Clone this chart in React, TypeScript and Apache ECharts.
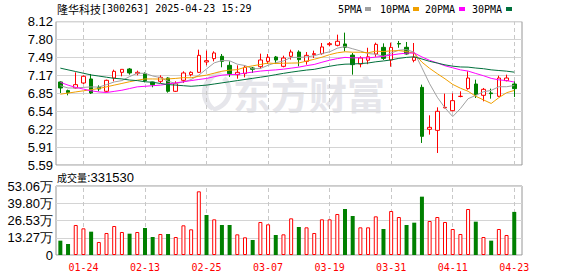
import React, { useEffect, useRef } from "react";
import * as echarts from "echarts";

const dates = [
  "01-21", "01-22", "01-23", "01-24", "01-27", "02-05", "02-06", "02-07", "02-10", "02-11",
  "02-12", "02-13", "02-14", "02-17", "02-18", "02-19", "02-20", "02-21", "02-24", "02-25",
  "02-26", "02-27", "02-28", "03-03", "03-04", "03-05", "03-06", "03-07", "03-10", "03-11",
  "03-12", "03-13", "03-14", "03-17", "03-18", "03-19", "03-20", "03-21", "03-24", "03-25",
  "03-26", "03-27", "03-28", "03-31", "04-01", "04-02", "04-03", "04-07", "04-08", "04-09",
  "04-10", "04-11", "04-14", "04-15", "04-16", "04-17", "04-18", "04-21", "04-22", "04-23",
];

const openP = [
  7.056, 6.903, 6.95, 7.038, 7.109, 6.962, 6.891, 7.126, 7.226, 7.285,
  7.203, 7.203, 7.056, 7.067, 7.126, 6.891, 7.085, 7.185, 7.226, 7.409,
  7.468, 7.509, 7.35, 7.185, 7.203, 7.303, 7.326, 7.42, 7.497, 7.332,
  7.509, 7.585, 7.42, 7.538, 7.556, 7.715, 7.703, 7.727, 7.53, 7.373,
  7.44, 7.55, 7.667, 7.444, 7.735, 7.668, 7.438, 6.961, 6.22, 6.202,
  6.6, 6.549, 6.8, 6.938, 7.02, 6.82, 6.862, 6.803, 7.079, 7.02,
];
const highP = [
  7.067, 6.92, 7.226, 7.173, 7.197, 6.997, 7.097, 7.273, 7.279, 7.303,
  7.256, 7.226, 7.06, 7.173, 7.138, 7.067, 7.244, 7.244, 7.626, 7.609,
  7.597, 7.55, 7.42, 7.35, 7.35, 7.32, 7.556, 7.55, 7.515, 7.52,
  7.626, 7.615, 7.585, 7.609, 7.744, 7.762, 7.891, 7.927, 7.567, 7.509,
  7.66, 7.75, 7.738, 7.75, 7.78, 7.762, 7.744, 7.009, 6.467, 6.608,
  6.85, 6.856, 6.891, 7.244, 7.097, 6.95, 6.938, 7.167, 7.185, 7.067,
];
const lowP = [
  6.861, 6.82, 6.94, 7.02, 6.844, 6.891, 6.873, 7.067, 7.156, 7.185,
  7.173, 7.05, 6.962, 7.038, 6.867, 6.879, 7.038, 7.156, 7.215, 7.35,
  7.42, 7.315, 7.144, 7.114, 7.138, 7.215, 7.291, 7.373, 7.373, 7.315,
  7.45, 7.332, 7.362, 7.479, 7.538, 7.685, 7.685, 7.597, 7.185, 7.315,
  7.37, 7.5, 7.444, 7.326, 7.66, 7.538, 7.403, 5.979, 6.126, 5.802,
  6.59, 6.538, 6.785, 6.92, 6.773, 6.714, 6.761, 6.791, 7.067, 6.791,
];
const closeP = [
  6.95, 6.867, 7.009, 7.156, 6.861, 6.932, 7.085, 7.244, 7.279, 7.215,
  7.226, 7.079, 7.009, 7.138, 6.891, 7.026, 7.215, 7.226, 7.526, 7.432,
  7.568, 7.42, 7.203, 7.226, 7.315, 7.279, 7.444, 7.491, 7.444, 7.479,
  7.585, 7.45, 7.526, 7.556, 7.674, 7.732, 7.774, 7.668, 7.362, 7.479,
  7.5, 7.72, 7.473, 7.667, 7.726, 7.55, 7.491, 6.096, 6.255, 6.538,
  6.608, 6.726, 6.803, 7.126, 6.832, 6.926, 6.85, 7.126, 7.126, 6.938,
];

const ma5 = [
  6.99, 6.95, 6.95, 6.96, 6.969, 6.965, 7.009, 7.056, 7.08, 7.151,
  7.21, 7.209, 7.162, 7.133, 7.069, 7.029, 7.056, 7.099, 7.177, 7.285,
  7.393, 7.434, 7.43, 7.37, 7.346, 7.289, 7.293, 7.351, 7.395, 7.427,
  7.489, 7.49, 7.497, 7.519, 7.558, 7.588, 7.652, 7.681, 7.642, 7.603,
  7.557, 7.546, 7.507, 7.568, 7.617, 7.627, 7.581, 7.306, 7.024, 6.786,
  6.598, 6.445, 6.586, 6.76, 6.819, 6.883, 6.907, 6.972, 6.972, 6.993,
];
const ma10 = [
  6.84, 6.86, 6.88, 6.9, 6.92, 6.94, 6.97, 7.0, 7.03, 7.06,
  7.087, 7.109, 7.109, 7.107, 7.11, 7.119, 7.132, 7.13, 7.155, 7.177,
  7.211, 7.245, 7.265, 7.273, 7.316, 7.341, 7.364, 7.39, 7.382, 7.387,
  7.389, 7.392, 7.424, 7.457, 7.493, 7.538, 7.571, 7.589, 7.581, 7.581,
  7.572, 7.599, 7.594, 7.605, 7.61, 7.592, 7.564, 7.406, 7.296, 7.202,
  7.112, 7.013, 6.946, 6.892, 6.803, 6.74, 6.676, 6.779, 6.866, 6.906,
];
const ma20 = [
  7.05, 7.0, 6.96, 6.93, 6.9, 6.88, 6.87, 6.89, 6.91, 6.94,
  6.97, 6.98, 6.99, 7.0, 7.02, 7.04, 7.06, 7.08, 7.1, 7.118,
  7.149, 7.177, 7.187, 7.19, 7.213, 7.23, 7.248, 7.26, 7.269, 7.282,
  7.3, 7.318, 7.344, 7.365, 7.404, 7.44, 7.468, 7.49, 7.481, 7.484,
  7.48, 7.495, 7.509, 7.531, 7.551, 7.565, 7.567, 7.498, 7.438, 7.391,
  7.342, 7.306, 7.27, 7.248, 7.206, 7.166, 7.12, 7.093, 7.081, 7.054,
];
const ma30 = [
  7.3, 7.27, 7.24, 7.21, 7.18, 7.16, 7.14, 7.12, 7.11, 7.09,
  7.08, 7.06, 7.05, 7.03, 7.01, 7.0, 6.99, 6.98, 6.99, 7.0,
  7.02, 7.04, 7.06, 7.08, 7.1, 7.12, 7.14, 7.16, 7.185, 7.208,
  7.229, 7.248, 7.266, 7.279, 7.306, 7.333, 7.356, 7.37, 7.373, 7.381,
  7.391, 7.412, 7.427, 7.445, 7.473, 7.49, 7.5, 7.462, 7.42, 7.39,
  7.358, 7.335, 7.321, 7.318, 7.302, 7.29, 7.27, 7.258, 7.247, 7.229,
];

const volume = [
  110200, 84600, 230700, 205100, 179400, 100000, 169200, 223000, 176900, 164000,
  176900, 207600, 138400, 161500, 161500, 138400, 228200, 197400, 489700, 307600,
  274300, 230700, 230700, 158900, 135900, 115400, 253800, 235800, 153800, 158900,
  282000, 215300, 212700, 169200, 274300, 274300, 315300, 353700, 299900, 212700,
  212700, 297300, 199900, 338400, 292200, 230700, 248600, 448600, 261500, 292200,
  253800, 199900, 161500, 353700, 256300, 138400, 110200, 199900, 153800, 331530,
];
// u = red (rise vs previous close), d = green
const volDir = [
  "d", "d", "u", "u", "d", "u", "u", "u", "u", "d",
  "u", "d", "d", "u", "d", "u", "u", "u", "u", "d",
  "u", "d", "d", "u", "u", "d", "u", "u", "d", "u",
  "u", "d", "u", "u", "u", "u", "u", "d", "d", "u",
  "u", "u", "d", "u", "u", "d", "d", "d", "u", "u",
  "u", "u", "u", "u", "d", "u", "d", "u", "u", "d",
];

const priceTicks = ["5.59", "5.91", "6.22", "6.54", "6.85", "7.17", "7.49", "7.80", "8.12"];
const volTicks = ["0", "13.27万", "26.53万", "39.80万", "53.06万"];
const labelDates = ["01-24", "02-13", "02-25", "03-07", "03-19", "03-31", "04-11", "04-23"];
const maNames = ["5PMA", "10PMA", "20PMA", "30PMA"];
const maColors = ["#a0a0a0", "#f0a000", "#ff00ff", "#00703c"];

const RED = "#ff0000";
const GREEN = "#008000";

const LOGO_D =
  "M22 0 C8 4 0 16 3 30 C5 38 10 42 14 44 L17 40 C12 36 9 30 10 22 C11 12 17 6 26 3 Z " +
  "M30 6 L26 10 C31 14 33 20 31 27 C29 34 22 39 14 41 L16 45 C27 43 35 36 37 26 C38 18 35 10 30 6 Z";

let logoRegistered = false;
function ensureLogo() {
  if (logoRegistered) return;
  try {
    const Logo = (echarts as any).graphic.extendPath(LOGO_D, {});
    (echarts as any).graphic.registerShape("emlogo", Logo);
    logoRegistered = true;
  } catch (e) {
    logoRegistered = false;
  }
}

export default function App() {
  const ref = useRef<HTMLDivElement>(null);

  useEffect(() => {
    ensureLogo();
    const chart = echarts.init(ref.current!, null, { renderer: "svg" });
    const kData = dates.map((_, i) => [openP[i], closeP[i], lowP[i], highP[i]]);
    const volData = volume.map((v, i) => ({
      value: v,
      itemStyle:
        volDir[i] === "u"
          ? { color: "#ffffff", borderColor: RED, borderWidth: 1 }
          : { color: GREEN, borderColor: GREEN, borderWidth: 0 },
    }));
    const vLines = {
      silent: true,
      symbol: ["none", "none"],
      label: { show: false },
      lineStyle: { color: "#c8c8c8", type: [4, 3], width: 1 },
      data: labelDates.map((d) => ({ xAxis: d })),
      z: 1,
      animation: false,
    };
    const mas = [ma5, ma10, ma20, ma30];

    const legendEls: any[] = [];
    const legendX = [338, 380, 425, 472];
    const legendRectX = [365, 413, 459, 506];
    maNames.forEach((n, i) => {
      legendEls.push({
        type: "text",
        x: legendX[i],
        y: 9,
        style: { text: n, fontFamily: "DejaVu Sans Mono", fontSize: 10, fill: "#000", verticalAlign: "middle" },
      });
      legendEls.push({
        type: "rect",
        shape: { x: legendRectX[i], y: 7, width: 6, height: 4 },
        style: { fill: maColors[i] },
      });
    });

    const watermark: any[] = [
      {
        type: "text",
        x: 233,
        y: 92,
        z: 0,
        style: {
          text: "东方财富",
          fontFamily: "Noto Sans CJK SC",
          fontWeight: "bold",
          fontSize: 38,
          fill: "#e6e6eb",
          verticalAlign: "middle",
        },
      },
    ];
    if (logoRegistered) {
      watermark.push({
        type: "emlogo",
        x: 200,
        y: 71,
        scaleX: 0.85,
        scaleY: 0.9,
        z: 0,
        style: { fill: "#e6e6eb" },
      });
    }

    const option: any = {
      animation: false,
      backgroundColor: "#ffffff",
      grid: [
        { left: 56.5, top: 21.7, width: 461.6, height: 143.3 },
        { left: 56, top: 21.7, width: 466, height: 143.3, show: true, borderColor: "#969696", borderWidth: 1, backgroundColor: "transparent" },
        { left: 56.5, top: 186, width: 461.6, height: 69 },
        { left: 56, top: 186, width: 466, height: 69, show: true, borderColor: "#969696", borderWidth: 1, backgroundColor: "transparent" },
      ],
      xAxis: [
        { gridIndex: 0, type: "category", data: dates, boundaryGap: true, show: false },
        { gridIndex: 1, type: "value", min: 0, max: 1, show: false },
        {
          gridIndex: 2,
          type: "category",
          data: dates,
          boundaryGap: true,
          axisLine: { show: false },
          axisTick: { show: false },
          splitLine: { show: false },
          axisLabel: {
            interval: (i: number) => (i - 3) % 8 === 0,
            color: RED,
            fontFamily: "DejaVu Sans Mono",
            fontSize: 10,
            margin: 7,
          },
        },
        { gridIndex: 3, type: "value", min: 0, max: 1, show: false },
      ],
      yAxis: [
        { gridIndex: 0, type: "value", min: 5.59, max: 8.12, show: false, splitLine: { show: false } },
        {
          gridIndex: 1,
          type: "value",
          min: 0,
          max: 8,
          interval: 1,
          axisLine: { show: false },
          axisTick: { show: false },
          splitLine: { lineStyle: { color: "#d4d4d4", width: 1 } },
          axisLabel: {
            formatter: (v: number) => priceTicks[Math.round(v)],
            color: "#000",
            fontFamily: "Liberation Sans",
            fontSize: 13,
            margin: 3,
          },
        },
        { gridIndex: 2, type: "value", min: 0, max: 530600, show: false, splitLine: { show: false } },
        {
          gridIndex: 3,
          type: "value",
          min: 0,
          max: 4,
          interval: 1,
          axisLine: { show: false },
          axisTick: { show: false },
          splitLine: { lineStyle: { color: "#d4d4d4", width: 1 } },
          axisLabel: {
            formatter: (v: number) => volTicks[Math.round(v)],
            color: "#000",
            fontFamily: "Liberation Sans",
            fontSize: 13,
            margin: 3,
          },
        },
      ],
      graphic: [
        ...watermark,
        {
          type: "text",
          x: 57,
          y: 8.5,
          style: {
            text: "{a|隆华科技}{b|[300263] 2025-04-23 15:29}",
            rich: {
              a: { fontFamily: "Noto Sans CJK SC", fontSize: 11, fill: "#000" },
              b: { fontFamily: "DejaVu Sans Mono", fontSize: 10, fill: "#000" },
            },
            verticalAlign: "middle",
          },
        },
        {
          type: "text",
          x: 57,
          y: 177.5,
          style: {
            text: "{a|成交量}{b|:331530}",
            rich: {
              a: { fontFamily: "Noto Sans CJK SC", fontSize: 10, fill: "#000" },
              b: { fontFamily: "Liberation Sans", fontSize: 13, fill: "#000" },
            },
            verticalAlign: "middle",
          },
        },
        ...legendEls,
      ],
      series: [
        {
          type: "candlestick",
          xAxisIndex: 0,
          yAxisIndex: 0,
          data: kData,
          barWidth: 4,
          z: 2,
          itemStyle: {
            color: "#ffffff",
            color0: GREEN,
            borderColor: RED,
            borderColor0: GREEN,
            borderWidth: 1,
          },
          markLine: vLines,
        },
        ...mas.map((m, i) => ({
          type: "line",
          name: maNames[i],
          xAxisIndex: 0,
          yAxisIndex: 0,
          data: m,
          showSymbol: false,
          symbol: "none",
          z: 3,
          lineStyle: { color: maColors[i], width: 1 },
          itemStyle: { color: maColors[i] },
        })),
        {
          type: "bar",
          xAxisIndex: 2,
          yAxisIndex: 2,
          data: volData,
          barWidth: 4,
          z: 2,
          markLine: vLines,
        },
      ],
    };
    chart.setOption(option);
    return () => chart.dispose();
  }, []);

  return (
    <div
      ref={ref}
      style={{ position: "absolute", left: 0, top: 0, width: 578, height: 276, background: "#fff" }}
    />
  );
}
